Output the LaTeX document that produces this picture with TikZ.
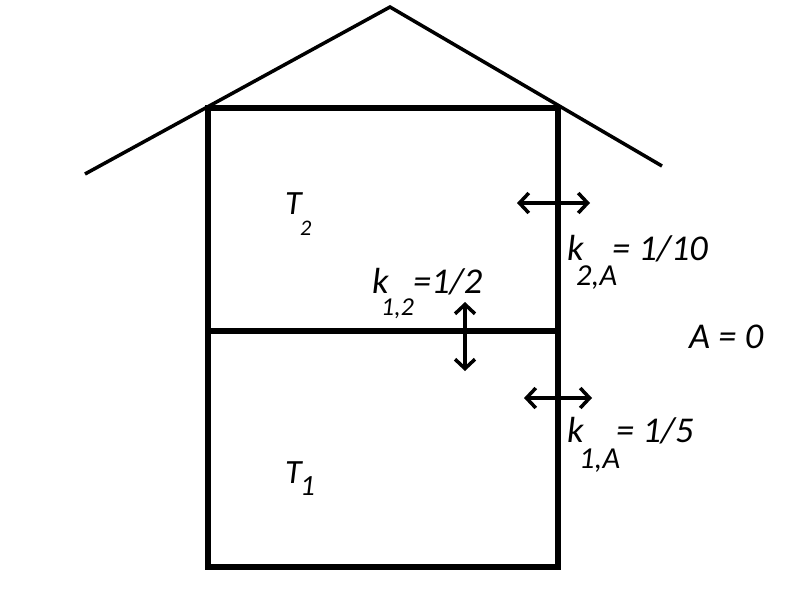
\documentclass[tikz,border=0pt]{standalone}
\usepackage{fontspec}
\setmainfont{Carlito}
\usetikzlibrary{arrows.meta}
\tikzset{
    x=0.03cm, y=-0.03cm, % one unit is one pixel of the sketch, y goes down
    wall/.style={line width=4.4pt}, % the walls and the floor between the rooms
    roof/.style={line width=3pt},
    flux/.style={<->, >={Straight Barb[length=8pt,width=17pt]}, line width=3pt}, % heat exchange
    lbl/.style={anchor=base west, inner sep=0pt, font=\itshape\fontsize{31}{31}\selectfont},
    idx/.style={anchor=base west, inner sep=0pt, font=\itshape\fontsize{26}{26}\selectfont},
}

\begin{document}
\begin{tikzpicture}
    \useasboundingbox (0,0) rectangle (793,610);

    % house
    \coordinate (eaveL) at (85,174);
    \coordinate (ridge) at (390,7);
    \coordinate (eaveR) at (662,166);
    \coordinate (sw) at (208,567);
    \coordinate (ne) at (558,108);
    \coordinate (floorW) at (208,331);
    \coordinate (floorE) at (558,331);

    \draw[roof] (eaveL) -- (ridge) -- (eaveR);
    \draw[wall] (sw) rectangle (ne);
    \draw[wall] (floorW) -- (floorE);

    % arrows
    \coordinate (f2w) at (517,203);
    \coordinate (f2e) at (590,203);
    \coordinate (f1w) at (524,398);
    \coordinate (f1e) at (592,398);
    \coordinate (f12n) at (465,302);
    \coordinate (f12s) at (465,371);

    \draw[flux] (f2w) -- (f2e);
    \draw[flux] (f1w) -- (f1e);
    \draw[flux] (f12n) -- (f12s);

    % rooms
    \node[lbl, font=\itshape\fontsize{29}{29}\selectfont] (T2) at (285,214) {T};
    \node[idx, font=\itshape\fontsize{19}{19}\selectfont] (T2i) at (300,235) {2};
    \node[lbl, font=\itshape\fontsize{29}{29}\selectfont] (T1) at (285,483) {T};
    \node[idx, font=\itshape\fontsize{25}{25}\selectfont] (T1i) at (300,495) {1};

    % coefficients
    \node[lbl] (k12) at (372,293) {k};
    \node[idx, font=\itshape\fontsize{22}{22}\selectfont] (k12i) at (381,315) {1,2};
    \node[lbl] (k12v) at (413,293) {=1/2};

    \node[lbl] (k2A) at (567,260) {k};
    \node[idx] (k2Ai) at (576,285) {2,A};
    \node[lbl] (k2Av) at (612,260) {= 1/10};

    \node[lbl] (k1A) at (567,442) {k};
    \node[idx] (k1Ai) at (579,468) {1,A};
    \node[lbl] (k1Av) at (616,442) {= 1/5};

    \node[lbl] (air) at (689,348) {A = 0};
\end{tikzpicture}
\end{document}
